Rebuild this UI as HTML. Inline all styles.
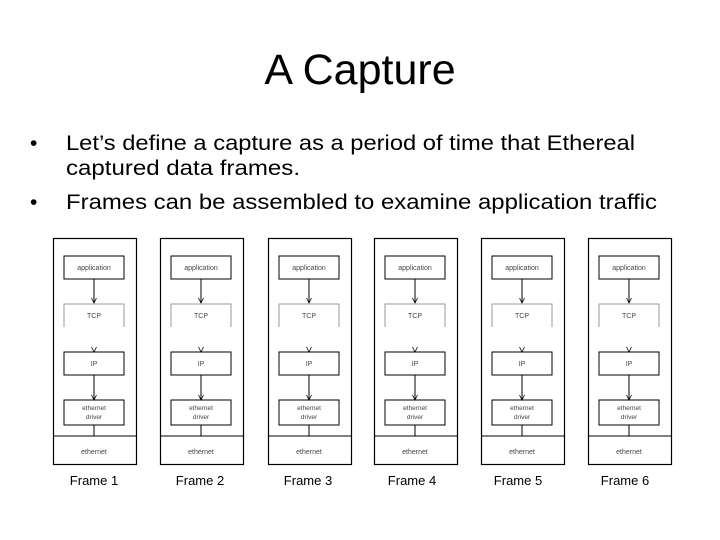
<!DOCTYPE html>
<html><head><meta charset="utf-8"><style>
body{margin:0;background:#fff;}
svg{display:block;}
</style></head><body>
<svg width="720" height="540" viewBox="0 0 720 540" xmlns="http://www.w3.org/2000/svg" font-family="Liberation Sans, sans-serif">
<rect width="720" height="540" fill="#fff"/>
<text x="360" y="84" font-size="43" text-anchor="middle" fill="#000">A Capture</text>
<g font-size="21" fill="#000">
<text x="30" y="150">•</text>
<text x="66" y="150" textLength="569" lengthAdjust="spacingAndGlyphs">Let’s define a capture as a period of time that Ethereal</text>
<text x="66" y="175" textLength="234" lengthAdjust="spacingAndGlyphs">captured data frames.</text>
<text x="30" y="209">•</text>
<text x="66" y="209" textLength="591" lengthAdjust="spacingAndGlyphs">Frames can be assembled to examine application traffic</text>
</g>
<defs>
<g id="fr">
<rect x="0.5" y="0.5" width="83" height="226" fill="none" stroke="#000" stroke-width="1.2"/>
<rect x="11" y="18" width="60" height="23" fill="none" stroke="#000" stroke-width="1"/>
<text x="41" y="32" font-size="7" text-anchor="middle" fill="#444">application</text>
<line x1="41" y1="41" x2="41" y2="65" stroke="#000" stroke-width="1"/>
<path d="M38.5 60 L41 65 L43.5 60" fill="none" stroke="#000" stroke-width="0.8"/>
<path d="M11 89 V66 H71 V89" fill="none" stroke="#999" stroke-width="1"/>
<text x="41" y="80" font-size="7" text-anchor="middle" fill="#444">TCP</text>
<path d="M38.5 109 L41 114 L43.5 109" fill="none" stroke="#000" stroke-width="0.8"/>
<rect x="11" y="114" width="60" height="23" fill="none" stroke="#000" stroke-width="1"/>
<text x="41" y="128" font-size="7" text-anchor="middle" fill="#444">IP</text>
<line x1="41" y1="137" x2="41" y2="162" stroke="#000" stroke-width="1"/>
<path d="M38.5 157 L41 162 L43.5 157" fill="none" stroke="#000" stroke-width="0.8"/>
<rect x="11" y="162" width="60" height="25" fill="none" stroke="#000" stroke-width="1"/>
<text x="41" y="172" font-size="6.5" text-anchor="middle" fill="#444">ethernet</text>
<text x="41" y="181" font-size="6.5" text-anchor="middle" fill="#444">driver</text>
<line x1="41" y1="187" x2="41" y2="198" stroke="#000" stroke-width="1"/>
<line x1="0" y1="198" x2="83" y2="198" stroke="#000" stroke-width="1"/>
<text x="41" y="216" font-size="7" text-anchor="middle" fill="#444">ethernet</text>
</g>
</defs>
<use href="#fr" x="53" y="238"/>
<use href="#fr" x="160" y="238"/>
<use href="#fr" x="268" y="238"/>
<use href="#fr" x="374" y="238"/>
<use href="#fr" x="481" y="238"/>
<use href="#fr" x="588" y="238"/>
<g font-size="13" text-anchor="middle" fill="#000">
<text x="94" y="485">Frame 1</text>
<text x="200" y="485">Frame 2</text>
<text x="308" y="485">Frame 3</text>
<text x="412" y="485">Frame 4</text>
<text x="518" y="485">Frame 5</text>
<text x="625" y="485">Frame 6</text>
</g>
</svg>
</body></html>
